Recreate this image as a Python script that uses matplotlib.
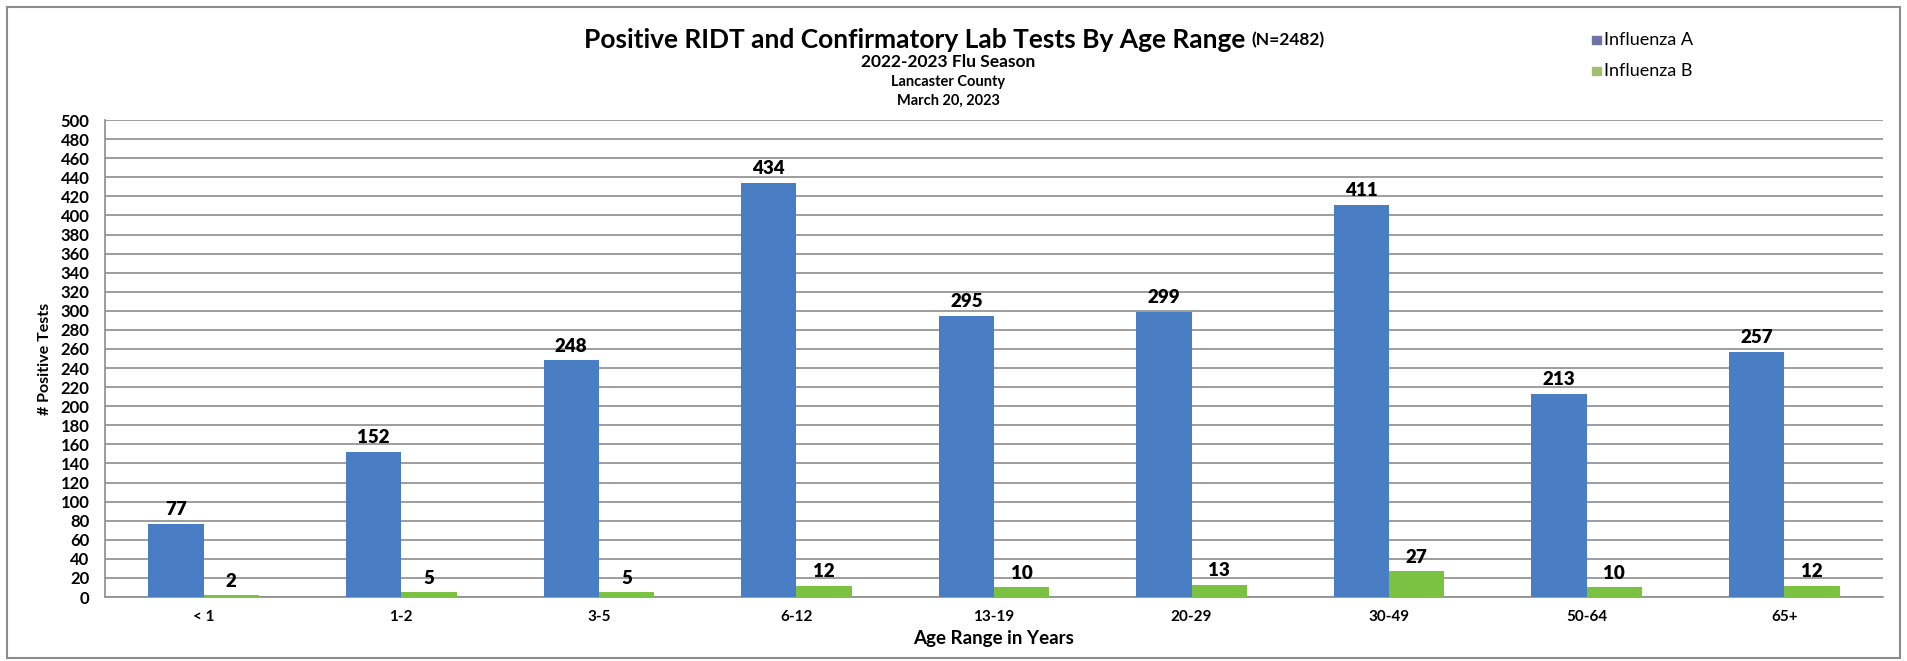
import matplotlib
matplotlib.use("Agg")
import matplotlib.pyplot as plt
import numpy as np
from matplotlib.patches import Rectangle

age_ranges = ["< 1", "1-2", "3-5", "6-12", "13-19", "20-29", "30-49", "50-64", "65+"]
flu_a = [77, 152, 248, 434, 295, 299, 411, 213, 257]
flu_b = [2, 5, 5, 12, 10, 13, 27, 10, 12]

plt.rcParams["font.family"] = ["Lato", "DejaVu Sans"]

blue = "#4a7ec4"
green = "#7cc242"

fig = plt.figure(figsize=(19.08, 6.61), dpi=100)
ax = fig.add_axes([0.0550, 0.0968, 0.9319, 0.7216])

x = np.arange(len(age_ranges))
w = 0.28
bars_a = ax.bar(x - w / 2, flu_a, w, color=blue, zorder=3)
bars_b = ax.bar(x + w / 2, flu_b, w, color=green, zorder=3)

for bars in (bars_a, bars_b):
    for b in bars:
        ax.annotate(str(int(b.get_height())), (b.get_x() + b.get_width() / 2, b.get_height()),
                    xytext=(0, 4), textcoords="offset points", ha="center", va="bottom",
                    fontsize=13.5, fontweight="heavy", zorder=4)

ax.set_xlim(-0.5, len(age_ranges) - 0.5)
ax.set_ylim(0, 500)
ax.set_yticks(range(0, 501, 20))
ax.set_xticks(x)
ax.set_xticklabels(age_ranges)
ax.tick_params(axis="both", length=0)
ax.tick_params(axis="y", pad=11, labelsize=12)
ax.tick_params(axis="x", pad=9, labelsize=11)
for lab in ax.get_xticklabels() + ax.get_yticklabels():
    lab.set_fontweight("bold")

ax.grid(axis="y", color="#8c8c8c", linewidth=1.2, zorder=0)
for s in ["top", "right"]:
    ax.spines[s].set_visible(False)
ax.spines["left"].set_color("#8c8c8c")
ax.spines["bottom"].set_color("#8c8c8c")
ax.spines["left"].set_linewidth(1.2)
ax.spines["bottom"].set_linewidth(1.2)

ax.set_xlabel("Age Range in Years", fontsize=13.5, fontweight="bold", labelpad=5)
ax.set_ylabel("# Positive Tests", fontsize=11.5, fontweight="bold", labelpad=6)

# titles - main part then the smaller "(N=...)" right after it
t1 = fig.text(0.306, 0.940, "Positive RIDT and Confirmatory Lab Tests By Age Range", ha="left",
              va="center", fontsize=19, fontweight="bold")
fig.canvas.draw()
bb = t1.get_window_extent(fig.canvas.get_renderer()).transformed(fig.transFigure.inverted())
fig.text(bb.x1 + 0.003, 0.940, "(N=2482)", ha="left", va="center", fontsize=12.5, fontweight="bold")
fig.text(0.497, 0.906, "2022-2023 Flu Season", ha="center", va="center", fontsize=12.5, fontweight="bold")
fig.text(0.497, 0.876, "Lancaster County", ha="center", va="center", fontsize=10.5, fontweight="bold")
fig.text(0.497, 0.848, "March 20, 2023", ha="center", va="center", fontsize=10.5, fontweight="bold")

# legend
fig.patches.append(Rectangle((0.8345, 0.934), 0.0045, 0.011, transform=fig.transFigure,
                             color="#6d72a8", figure=fig))
fig.text(0.8405, 0.940, "Influenza A", ha="left", va="center", fontsize=13)
fig.patches.append(Rectangle((0.8345, 0.887), 0.0045, 0.011, transform=fig.transFigure,
                             color="#a4bf72", figure=fig))
fig.text(0.8405, 0.893, "Influenza B", ha="left", va="center", fontsize=13)

# outer border
fig.patches.append(Rectangle((7 / 1908, 3 / 661), 1893 / 1908, 651 / 661, transform=fig.transFigure,
                             fill=False, edgecolor="#8c8c8c", linewidth=1.5, figure=fig))

fig.savefig("out.png", dpi=100)
